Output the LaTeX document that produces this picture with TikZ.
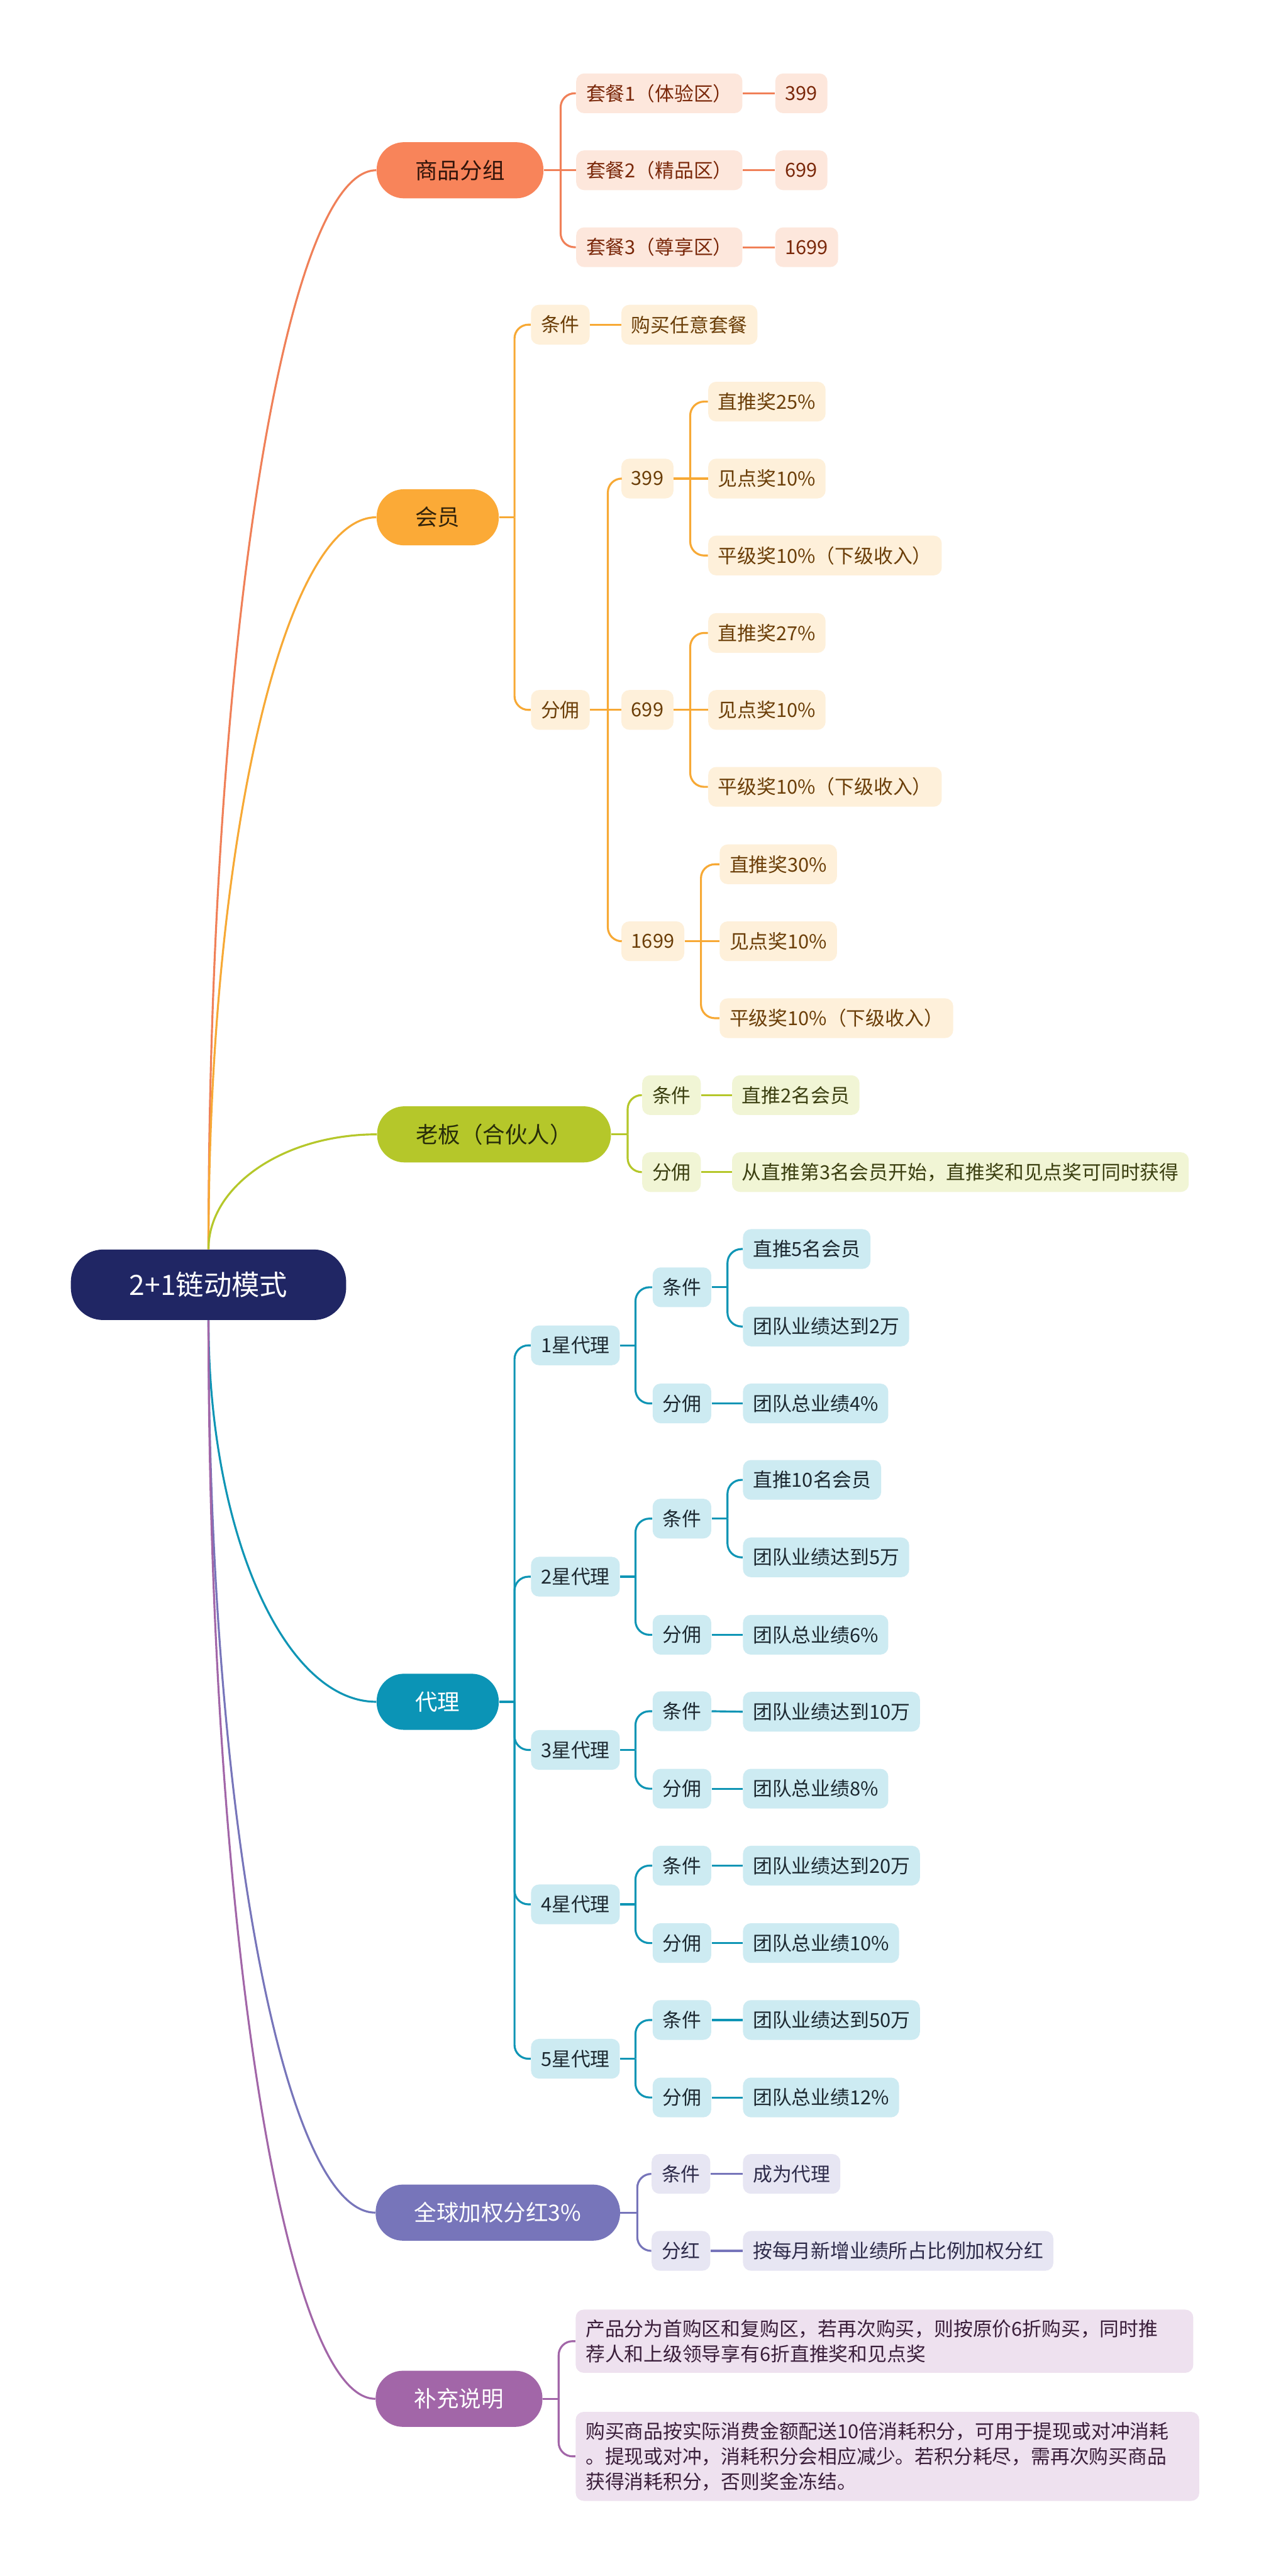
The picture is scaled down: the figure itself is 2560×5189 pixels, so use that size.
\documentclass[tikz,border=0pt]{standalone}
\usepackage{fontspec}
\setmainfont{Noto Sans CJK SC}
\usetikzlibrary{calc}
\definecolor{RootNavy}{RGB}{32,38,100}
\definecolor{GoodsFill}{RGB}{248,132,90}
\definecolor{GoodsLine}{RGB}{240,128,88}
\definecolor{GoodsPale}{RGB}{253,231,220}
\definecolor{GoodsText}{RGB}{122,40,10}
\definecolor{GoodsDark}{RGB}{50,20,10}
\definecolor{MemberFill}{RGB}{251,170,55}
\definecolor{MemberLine}{RGB}{247,169,53}
\definecolor{MemberPale}{RGB}{254,240,218}
\definecolor{MemberText}{RGB}{107,62,8}
\definecolor{MemberDark}{RGB}{50,35,10}
\definecolor{BossFill}{RGB}{181,199,42}
\definecolor{BossPale}{RGB}{241,245,213}
\definecolor{BossText}{RGB}{59,63,16}
\definecolor{BossDark}{RGB}{40,45,10}
\definecolor{AgentFill}{RGB}{11,148,182}
\definecolor{AgentLine}{RGB}{15,149,181}
\definecolor{AgentPale}{RGB}{205,235,242}
\definecolor{AgentText}{RGB}{28,40,48}
\definecolor{GlobalFill}{RGB}{119,117,186}
\definecolor{GlobalPale}{RGB}{231,230,243}
\definecolor{GlobalText}{RGB}{46,43,74}
\definecolor{NoteFill}{RGB}{162,102,168}
\definecolor{NotePale}{RGB}{238,225,239}
\definecolor{NoteText}{RGB}{58,30,58}
\begin{document}
\begin{tikzpicture}[x=0.1mm,y=-0.1mm,
    rootbox/.style={fill=RootNavy,text=white,rounded corners=6.5mm,inner xsep=11.8mm,
      minimum height=14.2mm,font=\fontsize{16pt}{18pt}\selectfont},
    mainbox/.style={rounded corners=5.5mm,inner xsep=7.8mm,minimum height=11.3mm,
      anchor=west,font=\fontsize{12.8pt}{15pt}\selectfont},
    leafbox/.style={rounded corners=1.6mm,inner xsep=2mm,minimum height=8mm,
      anchor=west,font=\fontsize{11.1pt}{14.5pt}\selectfont},
    notebox/.style={leafbox,align=left,inner ysep=2mm},
    goods/.style={leafbox,fill=GoodsPale,text=GoodsText},
    member/.style={leafbox,fill=MemberPale,text=MemberText},
    boss/.style={leafbox,fill=BossPale,text=BossText},
    agent/.style={leafbox,fill=AgentPale,text=AgentText},
    global/.style={leafbox,fill=GlobalPale,text=GlobalText},
    link/.style={line width=0.4mm},
    fork/.style={link,rounded corners=2.8mm}]
  \fill[white] (0,0) rectangle (2560,5189);

  % root and main branches
  \node[rootbox] (root) at (420,2588) {2+1链动模式};
  \node[mainbox,fill=GoodsFill,text=GoodsDark] (gp) at (758,343) {商品分组};
  \node[mainbox,fill=MemberFill,text=MemberDark] (hy) at (758,1042) {会员};
  \node[mainbox,fill=BossFill,text=BossDark] (lb) at (759,2285) {老板（合伙人）};
  \node[mainbox,fill=AgentFill,text=white] (dl) at (758,3428) {代理};
  \node[mainbox,fill=GlobalFill,text=white] (qq) at (756,4457) {全球加权分红3\%};
  \node[mainbox,fill=NoteFill,text=white] (bc) at (756,4832) {补充说明};
  \foreach \n/\c in {gp/GoodsLine,hy/MemberLine,lb/BossFill}
    \draw[link,\c] (root.north) .. controls ($(root.north)!.552!(root.north|-\n.west)$)
      and ($(\n.west)!.552!(root.north|-\n.west)$) .. (\n.west);
  \foreach \n/\c in {dl/AgentLine,qq/GlobalFill,bc/NoteFill}
    \draw[link,\c] (root.south) .. controls ($(root.south)!.552!(root.south|-\n.west)$)
      and ($(\n.west)!.552!(root.south|-\n.west)$) .. (\n.west);

  % goods
  \foreach \n/\y/\txt/\pv in {t1/188/套餐1（体验区）/399,t2/343/套餐2（精品区）/699,t3/498/套餐3（尊享区）/1699}{
    \node[goods] (\n) at (1160,\y) {\txt};
    \node[goods] (\n-p) at (1561,\y) {\pv};
    \draw[link,GoodsLine] (\n.east) -- (\n-p.west);
  }
  \draw[link,GoodsLine] (gp.east) -- ++(34,0) coordinate (gpS);
  \draw[link,GoodsLine] (gpS) -- (t2.west);
  \foreach \c in {t1,t3} \draw[fork,GoodsLine] (gpS) |- (\c.west);

  % member
  \node[member] (hc) at (1069,654) {条件};
  \node[member] (hcv) at (1251,654) {购买任意套餐};
  \node[member] (hf) at (1069,1430) {分佣};
  \draw[link,MemberLine] (hc.east) -- (hcv.west);
  \draw[link,MemberLine] (hy.east) -- ++(31,0) coordinate (hyS);
  \foreach \c in {hc,hf} \draw[fork,MemberLine] (hyS) |- (\c.west);
  \foreach \n/\y/\v in {hf1/964/399,hf2/1430/699,hf3/1896/1699}
    \node[member] (\n) at (1251,\y) {\v};
  \draw[link,MemberLine] (hf.east) -- ++(36,0) coordinate (hfS);
  \draw[link,MemberLine] (hfS) -- (hf2.west);
  \foreach \c in {hf1,hf3} \draw[fork,MemberLine] (hfS) |- (\c.west);
  \foreach \p/\x/\y/\r in {hf1/1426/964/25,hf2/1426/1430/27,hf3/1449/1896/30}{
    \node[member] (\p-zt) at (\x,\y-155) {直推奖\r\%};
    \node[member] (\p-jd) at (\x,\y) {见点奖10\%};
    \node[member] (\p-pj) at (\x,\y+155) {平级奖10\%（下级收入）};
    \draw[link,MemberLine] (\p.east) -- ++(33,0) coordinate (\p-S);
    \draw[link,MemberLine] (\p-S) -- (\p-jd.west);
    \draw[fork,MemberLine] (\p-S) |- (\p-zt.west);
    \draw[fork,MemberLine] (\p-S) |- (\p-pj.west);
  }

  % boss
  \node[boss] (lc) at (1293,2206) {条件};
  \node[boss] (lcv) at (1474,2206) {直推2名会员};
  \node[boss] (lf) at (1293,2361) {分佣};
  \node[boss] (lfv) at (1474,2361) {从直推第3名会员开始，直推奖和见点奖可同时获得};
  \draw[link,BossFill] (lb.east) -- ++(33,0) coordinate (lbS);
  \foreach \c in {lc,lf} \draw[fork,BossFill] (lbS) |- (\c.west);
  \draw[link,BossFill] (lc.east) -- (lcv.west);
  \draw[link,BossFill] (lf.east) -- (lfv.west);

  % agent
  \draw[link,AgentLine] (dl.east) -- ++(31,0) coordinate (dlS);
  \foreach \k/\y/\d/\fv in {1/2710/117/4,2/3176/117/6,3/3525/78/8,4/3836/78/10,5/4147/78/12}{
    \node[agent] (s\k) at (1069,\y) {\k 星代理};
    \node[agent] (s\k-c) at (1314,\y-\d) {条件};
    \node[agent] (s\k-f) at (1314,\y+\d) {分佣};
    \node[agent] (s\k-fv) at (1496,\y+\d) {团队总业绩\fv\%};
    \draw[fork,AgentLine] (dlS) |- (s\k.west);
    \draw[link,AgentLine] (s\k.east) -- ++(31,0) coordinate (s\k-S);
    \draw[fork,AgentLine] (s\k-S) |- (s\k-c.west);
    \draw[fork,AgentLine] (s\k-S) |- (s\k-f.west);
    \draw[link,AgentLine] (s\k-f.east) -- (s\k-fv.west);
  }
  \foreach \k/\y/\na/\nb in {1/2594/5/2,2/3059/10/5}{
    \node[agent] (s\k-ca) at (1496,\y-78) {直推\na 名会员};
    \node[agent] (s\k-cb) at (1496,\y+78) {团队业绩达到\nb 万};
    \draw[link,AgentLine] (s\k-c.east) -- ++(32,0) coordinate (s\k-cS);
    \draw[fork,AgentLine] (s\k-cS) |- (s\k-ca.west);
    \draw[fork,AgentLine] (s\k-cS) |- (s\k-cb.west);
  }
  \foreach \k/\y/\v in {3/3448/10,4/3758/20,5/4069/50}{
    \node[agent] (s\k-cv) at (1496,\y) {团队业绩达到\v 万};
    \draw[link,AgentLine] (s\k-c.east) -- (s\k-cv.west);
  }

  % global bonus
  \node[global] (qc) at (1312,4379) {条件};
  \node[global] (qcv) at (1496,4379) {成为代理};
  \node[global] (qf) at (1312,4534) {分红};
  \node[global] (qfv) at (1496,4534) {按每月新增业绩所占比例加权分红};
  \draw[link,GlobalFill] (qq.east) -- ++(34,0) coordinate (qqS);
  \foreach \c in {qc,qf} \draw[fork,GlobalFill] (qqS) |- (\c.west);
  \draw[link,GlobalFill] (qc.east) -- (qcv.west);
  \draw[link,GlobalFill] (qf.east) -- (qfv.west);

  % notes
  \node[notebox,fill=NotePale,text=NoteText,text width=120.4mm] (bn1) at (1159,4716)
    {产品分为首购区和复购区，若再次购买，则按原价6折购买，同时推\\荐人和上级领导享有6折直推奖和见点奖};
  \node[notebox,fill=NotePale,text=NoteText,text width=121.6mm] (bn2) at (1159,4948)
    {购买商品按实际消费金额配送10倍消耗积分，可用于提现或对冲消耗\\。提现或对冲，消耗积分会相应减少。若积分耗尽，需再次购买商品\\获得消耗积分，否则奖金冻结。};
  \draw[link,NoteFill] (bc.east) -- ++(32,0) coordinate (bcS);
  \foreach \c in {bn1,bn2} \draw[fork,NoteFill] (bcS) |- (\c.west);
\end{tikzpicture}
\end{document}
